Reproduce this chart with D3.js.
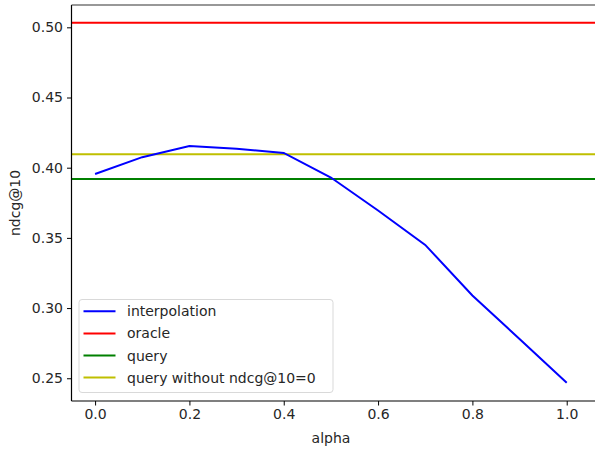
<!DOCTYPE html>
<html><head><meta charset="utf-8">
<script src="https://cdn.jsdelivr.net/npm/d3@7"></script>
<style>body{margin:0;background:#fff}svg{display:block}text{font-family:"DejaVu Sans",sans-serif;fill:#262626}</style>
</head><body><div id="c"></div>
<script>
const alphas = [0.0,0.1,0.2,0.3,0.4,0.5,0.6,0.7,0.8,0.9,1.0];
const interpolation = [0.3955,0.4075,0.4155,0.4135,0.4105,0.3930,0.3695,0.3450,0.3090,0.2780,0.2468];
const oracle = 0.5033;
const query = 0.3920;
const queryNonZero = 0.4095;
const xTicks = [0.0,0.2,0.4,0.6,0.8,1.0];
const yTicks = [0.25,0.30,0.35,0.40,0.45,0.50];
const legendLabels = ["interpolation","oracle","query","query without ndcg@10=0"];
const colors = ["#0000ff","#ff0000","#008000","#bfbf00"];

const W=595,H=449;
const svg=d3.select("#c").append("svg").attr("width",W).attr("height",H);
const x=d3.scaleLinear().domain([-0.05,1.05]).range([71.5,590.3]);
const y=d3.scaleLinear().domain([0.2338,0.5159]).range([401,5]);
const fs="14px";

const plot=svg.append("g");
[[oracle,colors[1]],[query,colors[2]],[queryNonZero,colors[3]]].forEach(([v,c])=>{
  plot.append("line").attr("x1",x(-0.05)).attr("x2",W+10).attr("y1",y(v)).attr("y2",y(v))
    .attr("stroke",c).attr("stroke-width",2);
});
plot.append("path").datum(alphas.map((a,i)=>[a,interpolation[i]]))
  .attr("d",d3.line().x(d=>x(d[0])).y(d=>y(d[1])))
  .attr("fill","none").attr("stroke",colors[0]).attr("stroke-width",2);

const xa=svg.append("g").attr("transform","translate(0,401)")
  .call(d3.axisBottom(x).tickValues(xTicks).tickFormat(d3.format(".1f")).tickSizeOuter(0).tickSize(4.5).tickPadding(4));
const ya=svg.append("g").attr("transform","translate(71.5,0)")
  .call(d3.axisLeft(y).tickValues(yTicks).tickFormat(d3.format(".2f")).tickSizeOuter(0).tickSize(4.5).tickPadding(4));
[xa,ya].forEach(a=>{a.select(".domain").remove();a.selectAll("text").style("font-size",fs).style("font-family","DejaVu Sans").attr("fill","#262626");a.selectAll("line").attr("stroke","#000")});
svg.append("line").attr("x1",71.5).attr("x2",71.5).attr("y1",5).attr("y2",401).attr("stroke","#000").attr("stroke-width",1.2);
svg.append("line").attr("x1",71.5).attr("x2",W+10).attr("y1",401).attr("y2",401).attr("stroke","#000").attr("stroke-width",1.2);
svg.append("line").attr("x1",71.5).attr("x2",W+10).attr("y1",5).attr("y2",5).attr("stroke","#333").attr("stroke-width",1.2);

svg.append("text").attr("x",331).attr("y",443).attr("text-anchor","middle").style("font-size",fs).text("alpha");
svg.append("text").attr("transform","translate(20,203) rotate(-90)").attr("text-anchor","middle").style("font-size",fs).text("ndcg@10");

const lg=svg.append("g");
lg.append("rect").attr("x",79).attr("y",299.5).attr("width",254).attr("height",93).attr("rx",3)
  .attr("fill","#fff").attr("fill-opacity",0.8).attr("stroke","#d9d9d9");
legendLabels.forEach((l,i)=>{
  const yy=311.3+i*22.1;
  lg.append("line").attr("x1",83.5).attr("x2",115.5).attr("y1",yy).attr("y2",yy).attr("stroke",colors[i]).attr("stroke-width",2);
  lg.append("text").attr("x",127).attr("y",yy+5).style("font-size",fs).text(l);
});
</script></body></html>
